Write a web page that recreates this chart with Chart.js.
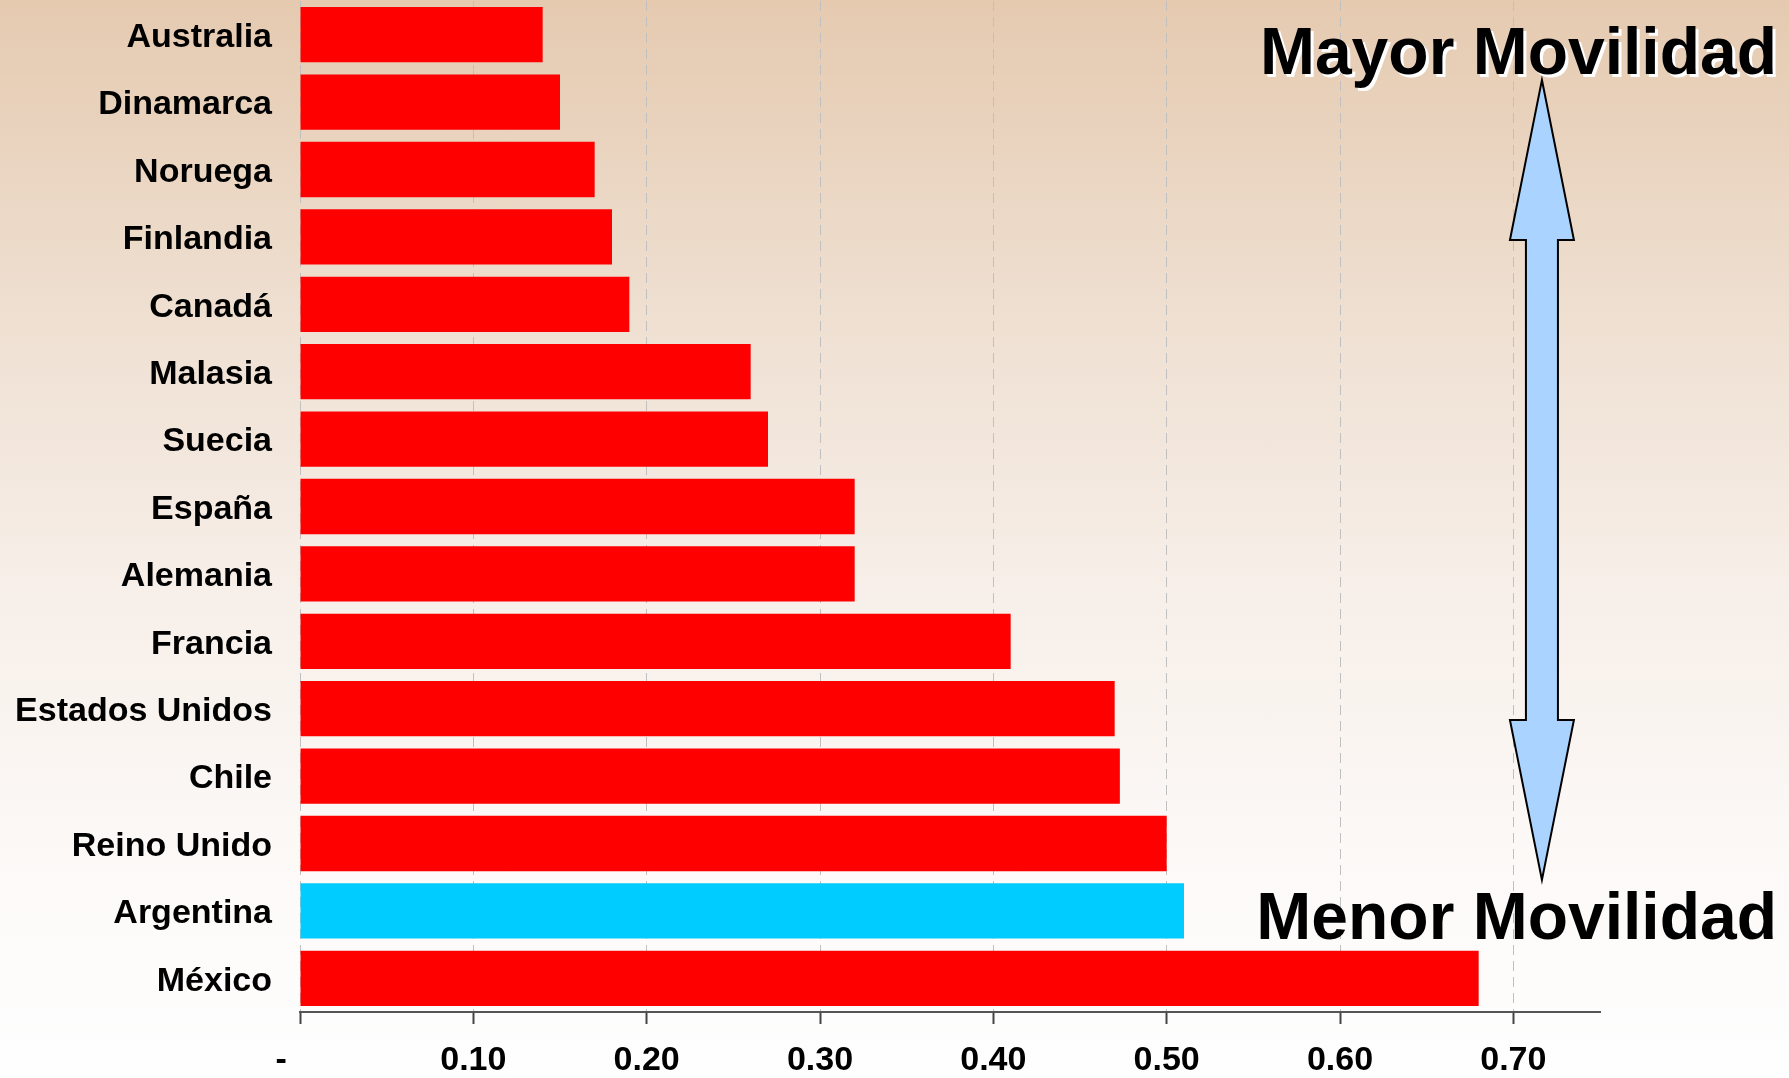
<!DOCTYPE html>
<html>
<head>
<meta charset="utf-8">
<script src="https://cdn.jsdelivr.net/npm/chart.js@4/dist/chart.umd.min.js"></script>
<style>
  html, body { margin: 0; padding: 0; }
  body {
    width: 1789px; height: 1078px; overflow: hidden;
    background: linear-gradient(to bottom, #e5cab0 0%, #efe0d2 30%, #f7efe9 55%, #fdfbfa 85%, #fefefe 100%);
  }
  #wrap { width: 1789px; height: 1078px; }
</style>
</head>
<body>
<div id="wrap"><canvas id="myChart" width="1789" height="1078"></canvas></div>
<script>
// data
const countries = ['Australia', 'Dinamarca', 'Noruega', 'Finlandia', 'Canadá', 'Malasia', 'Suecia',
    'España', 'Alemania', 'Francia', 'Estados Unidos', 'Chile', 'Reino Unido', 'Argentina', 'México']
const mobility = [0.14, 0.15, 0.17, 0.18, 0.19, 0.26, 0.27, 0.32, 0.32, 0.41, 0.47, 0.473, 0.50, 0.51, 0.68]
const highlight = 'Argentina'
const xTicks = [0, 0.1, 0.2, 0.3, 0.4, 0.5, 0.6, 0.7]
const topNote = 'Mayor Movilidad'
const bottomNote = 'Menor Movilidad'

const FONT = "'Liberation Sans', Arial, sans-serif"

const barColors = countries.map(c => c === highlight ? '#00ccff' : '#ff0000')

// arrow + notes on the right
const notesPlugin = {
    id: 'notes',
    afterDraw(chart) {
        const ctx = chart.ctx
        const x = chart.scales.x.getPixelForValue(0.7165)
        const top = 80, bottom = 880
        const headW = 32, shaftW = 16, headH = 160

        ctx.save()
        ctx.beginPath()
        ctx.moveTo(x, top)
        ctx.lineTo(x + headW, top + headH)
        ctx.lineTo(x + shaftW, top + headH)
        ctx.lineTo(x + shaftW, bottom - headH)
        ctx.lineTo(x + headW, bottom - headH)
        ctx.lineTo(x, bottom)
        ctx.lineTo(x - headW, bottom - headH)
        ctx.lineTo(x - shaftW, bottom - headH)
        ctx.lineTo(x - shaftW, top + headH)
        ctx.lineTo(x - headW, top + headH)
        ctx.closePath()
        ctx.fillStyle = '#aad4ff'
        ctx.fill()
        ctx.lineWidth = 2
        ctx.strokeStyle = '#000'
        ctx.stroke()

        ctx.font = "bold 66px " + FONT
        ctx.textAlign = 'right'
        ctx.textBaseline = 'alphabetic'
        ctx.fillStyle = '#fff'
        ctx.fillText(topNote, 1780, 77)
        ctx.fillStyle = '#000'
        ctx.fillText(topNote, 1777, 74)
        ctx.fillText(bottomNote, 1777, 939)
        ctx.restore()
    }
}

const ctx = document.getElementById('myChart').getContext('2d')
const myChart = new Chart(ctx, {
    type: 'bar',
    data: {
        labels: countries,
        datasets: [{
            data: mobility,
            backgroundColor: barColors,
            borderWidth: 0,
            barPercentage: 0.82,
            categoryPercentage: 1
        }]
    },
    options: {
        indexAxis: 'y',
        responsive: false,
        animation: false,
        layout: { padding: { top: 1, right: 189, bottom: 0, left: 0 } },
        plugins: {
            legend: { display: false },
            tooltip: { enabled: false }
        },
        scales: {
            x: {
                min: 0,
                max: 0.75,
                afterBuildTicks(scale) {
                    scale.ticks = xTicks.map(v => ({ value: v }))
                },
                afterFit(scale) { scale.height = 66 },
                grid: {
                    color: '#c0c0c0',
                    lineWidth: 1,
                    drawTicks: true,
                    tickLength: 12,
                    tickColor: '#444',
                    tickWidth: 2,
                    tickBorderDash: []
                },
                border: { display: true, color: '#555', width: 2, dash: [10, 6] },
                ticks: {
                    padding: 20,
                    color: '#000',
                    font: { family: FONT, size: 34, weight: 'bold', lineHeight: 1 },
                    // accounting style zero
                    callback: v => v === 0 ? '-    ' : v.toFixed(2)
                }
            },
            y: {
                grid: { display: false, drawTicks: false },
                border: { display: false },
                afterFit(scale) {
                    scale.width = 300
                    scale.paddingTop = 0
                    scale.paddingBottom = 0
                },
                ticks: {
                    padding: 28,
                    labelOffset: 3,
                    color: '#000',
                    font: { family: FONT, size: 34, weight: 'bold' }
                }
            }
        }
    },
    plugins: [notesPlugin]
})
</script>
</body>
</html>
